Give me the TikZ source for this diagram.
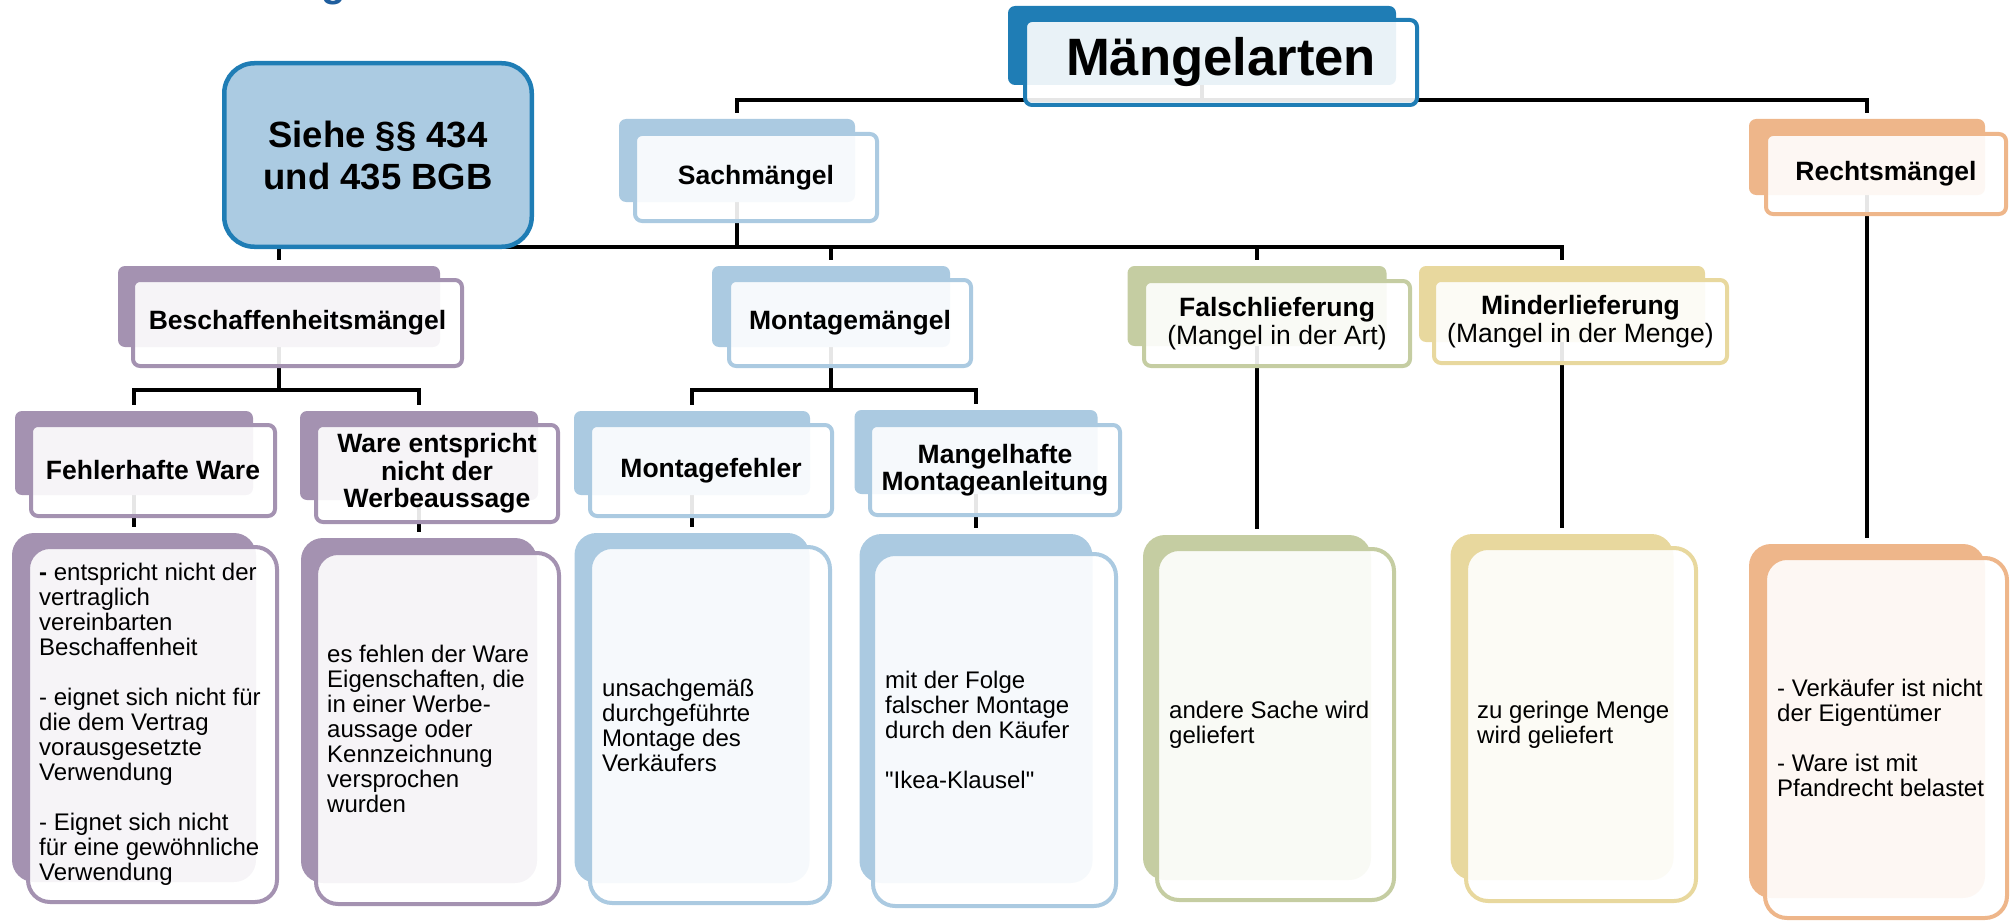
\documentclass[tikz,border=0pt]{standalone}
\usepackage{fontspec}
\setmainfont{Liberation Sans}[Ligatures=TeXOff]
\usetikzlibrary{backgrounds}
\definecolor{dblue}{RGB}{31,125,181}
\definecolor{tblue}{RGB}{31,94,158}
\definecolor{lblue}{RGB}{171,202,225}
\definecolor{sfill}{RGB}{171,203,226}
\definecolor{lila}{RGB}{164,146,177}
\definecolor{mgreen}{RGB}{197,205,162}
\definecolor{myellow}{RGB}{232,216,158}
\definecolor{morange}{RGB}{238,182,138}

\begin{document}
\begin{tikzpicture}
    [x=1pt, y=-1pt,
    conn/.style={draw=black, line width=4pt},
    hback/.style={rectangle, rounded corners=7pt, fill=#1, inner sep=0pt},
    hfront/.style={rectangle, rounded corners=7pt, draw=#1, line width=4pt, fill=white,
        fill opacity=0.9, text opacity=1, inner sep=0pt, align=center,
        font=\fontsize{26.5pt}{27.5pt}\selectfont\bfseries},
    cback/.style={hback=#1, rounded corners=22pt},
    cfront/.style={hfront=#1, rounded corners=22pt},
    ctext/.style={anchor=west, inner sep=0pt, align=left, font=\fontsize{24pt}{25pt}\selectfont}]
    \useasboundingbox (0,0) rectangle (2015,923);

    % title, cut off at the top
    \node[anchor=base, inner sep=0pt, text=tblue, font=\fontsize{40pt}{40pt}\selectfont\bfseries] (ttl) at (334,-3.4) {g};

    % level 0
    \node[hback=dblue, minimum width=388pt, minimum height=79pt] (maB) at (1202,45.5) {};
    \node[hfront=dblue, minimum width=392pt, minimum height=85pt, font=\fontsize{52.6pt}{56pt}\selectfont\bfseries] (ma) at (1221,62.5) {Mängelarten};

    % level 1
    \node[hback=lblue, minimum width=236pt, minimum height=83pt] (smB) at (737,160.5) {};
    \node[hfront=lblue, minimum width=242pt, minimum height=87pt] (sm) at (756,177.5) {Sachmängel};
    \node[hback=morange, minimum width=236pt, minimum height=76pt] (rmB) at (1867,157) {};
    \node[hfront=morange, minimum width=240pt, minimum height=80pt] (rm) at (1886,174) {Rechtsmängel};

    % level 2
    \node[hback=lila, minimum width=322pt, minimum height=81pt] (bmB) at (279,306.5) {};
    \node[hfront=lila, minimum width=329pt, minimum height=86pt] (bm) at (297.5,323) {Beschaffenheitsmängel};
    \node[hback=lblue, minimum width=238pt, minimum height=81pt] (mmB) at (831,306.5) {};
    \node[hfront=lblue, minimum width=242pt, minimum height=86pt] (mm) at (850,323) {Montagemängel};
    \node[hback=mgreen, minimum width=259pt, minimum height=80pt] (flB) at (1257,306) {};
    \node[hfront=mgreen, minimum width=266pt, minimum height=85pt] (fl) at (1277,323.5) {Falschlieferung\\{\mdseries (Mangel in der Art)}};
    \node[hback=myellow, minimum width=286pt, minimum height=76pt] (mlB) at (1562,304) {};
    \node[hfront=myellow, minimum width=293pt, minimum height=83pt] (ml) at (1580.5,321.5) {Minderlieferung\\{\mdseries (Mangel in der Menge)}};

    % level 3
    \node[hback=lila, minimum width=238pt, minimum height=84pt] (fwB) at (134,453) {};
    \node[hfront=lila, minimum width=244pt, minimum height=91pt] (fw) at (153,470.5) {Fehlerhafte Ware};
    \node[hback=lila, minimum width=238pt, minimum height=89pt] (weB) at (419,455.5) {};
    \node[hfront=lila, minimum width=242pt, minimum height=97pt] (we) at (437,473.5) {Ware entspricht\\nicht der\\Werbeaussage};
    \node[hback=lblue, minimum width=236pt, minimum height=84pt] (mfB) at (692,453) {};
    \node[hfront=lblue, minimum width=242pt, minimum height=91pt] (mf) at (711,470.5) {Montagefehler};
    \node[hback=lblue, minimum width=243pt, minimum height=84pt] (mhB) at (976,452) {};
    \node[hfront=lblue, minimum width=250pt, minimum height=90pt] (mh) at (995,470) {Mangelhafte\\Montageanleitung};

    % contents
    \node[cback=lila, minimum width=244pt, minimum height=349pt] (c1B) at (134,707.5) {};
    \node[cfront=lila, minimum width=249pt, minimum height=355pt] (c1) at (152.5,724.5) {};
    \node[ctext] (c1t) at ([xshift=13pt]c1.west) {\textbf{-} entspricht nicht der\\vertraglich\\vereinbarten\\Beschaffenheit\\[25pt]- eignet sich nicht für\\die dem Vertrag\\vorausgesetzte\\Verwendung\\[25pt]- Eignet sich nicht\\für eine gewöhnliche\\Verwendung};
    \node[cback=lila, minimum width=236pt, minimum height=345pt] (c2B) at (419,710.5) {};
    \node[cfront=lila, minimum width=243pt, minimum height=351pt] (c2) at (437.5,728.5) {};
    \node[ctext] (c2t) at ([xshift=13pt]c2.west) {es fehlen der Ware\\Eigenschaften, die\\in einer Werbe-\\aussage oder\\Kennzeichnung\\versprochen\\wurden};
    \node[cback=lblue, minimum width=235pt, minimum height=350pt] (c3B) at (692,708) {};
    \node[cfront=lblue, minimum width=240pt, minimum height=356pt] (c3) at (710,725) {};
    \node[ctext] (c3t) at ([xshift=14pt]c3.west) {unsachgemäß\\durchgeführte\\Montage des\\Verkäufers};
    \node[cback=lblue, minimum width=233pt, minimum height=349pt] (c4B) at (976,708.5) {};
    \node[cfront=lblue, minimum width=243pt, minimum height=352pt] (c4) at (994.5,730) {};
    \node[ctext] (c4t) at ([xshift=14pt]c4.west) {mit der Folge\\falscher Montage\\durch den Käufer\\[25pt]"Ikea-Klausel"};
    \node[cback=mgreen, minimum width=228pt, minimum height=345pt] (c5B) at (1257,707.5) {};
    \node[cfront=mgreen, minimum width=237pt, minimum height=351pt] (c5) at (1275.5,724.5) {};
    \node[ctext] (c5t) at ([xshift=14pt]c5.west) {andere Sache wird\\geliefert};
    \node[cback=myellow, minimum width=223pt, minimum height=346pt] (c6B) at (1562,707) {};
    \node[cfront=myellow, minimum width=230pt, minimum height=353pt] (c6) at (1581,724.5) {};
    \node[ctext] (c6t) at ([xshift=13pt]c6.west) {zu geringe Menge\\wird geliefert};
    \node[cback=morange, minimum width=236pt, minimum height=354pt] (c7B) at (1867,721) {};
    \node[cfront=morange, minimum width=242pt, minimum height=360pt] (c7) at (1886,738) {};
    \node[ctext] (c7t) at ([xshift=14pt]c7.west) {- Verkäufer ist nicht\\der Eigentümer\\[25pt]- Ware ist mit\\Pfandrecht belastet};

    % side box
    \node[rectangle, rounded corners=30pt, fill=sfill, draw=dblue, line width=4.5pt,
        minimum width=307.5pt, minimum height=183.5pt, inner sep=0pt, align=center,
        font=\fontsize{36.5pt}{42pt}\selectfont\bfseries] (siehe) at (378,155) {Siehe §§ 434\\und 435 BGB};

    % connectors
    \coordinate (j0) at (1202,100);
    \coordinate (j1) at (737,247);
    \coordinate (j2) at (279,390);
    \coordinate (j3) at (831,390);
    \begin{scope}[on background layer]
        \draw[conn] (maB.south) -- (j0);
        \draw[conn] ([yshift=6pt]smB.north) |- (j0);
        \draw[conn] ([yshift=6pt]rmB.north) |- (j0);
        \draw[conn] (smB.south) -- (j1);
        \draw[conn] ([yshift=6pt]bmB.north) |- (j1);
        \draw[conn] ([yshift=6pt]mmB.north) |- (j1);
        \draw[conn] ([yshift=6pt]flB.north) |- (j1);
        \draw[conn] ([yshift=6pt]mlB.north) |- (j1);
        \draw[conn] (bmB.south) -- (j2);
        \draw[conn] ([yshift=6pt]fwB.north) |- (j2);
        \draw[conn] ([yshift=6pt]weB.north) |- (j2);
        \draw[conn] (mmB.south) -- (j3);
        \draw[conn] ([yshift=6pt]mfB.north) |- (j3);
        \draw[conn] ([yshift=6pt]mhB.north) |- (j3);
        \draw[conn] (fwB.south) -- ([yshift=6pt]c1B.north);
        \draw[conn] (weB.south) -- ([yshift=6pt]c2B.north);
        \draw[conn] (mfB.south) -- ([yshift=6pt]c3B.north);
        \draw[conn] (mhB.south) -- ([yshift=6pt]c4B.north);
        \draw[conn] (flB.south) -- ([yshift=6pt]c5B.north);
        \draw[conn] (mlB.south) -- ([yshift=6pt]c6B.north);
        \draw[conn] (rmB.south) -- ([yshift=6pt]c7B.north);
    \end{scope}
\end{tikzpicture}
\end{document}
